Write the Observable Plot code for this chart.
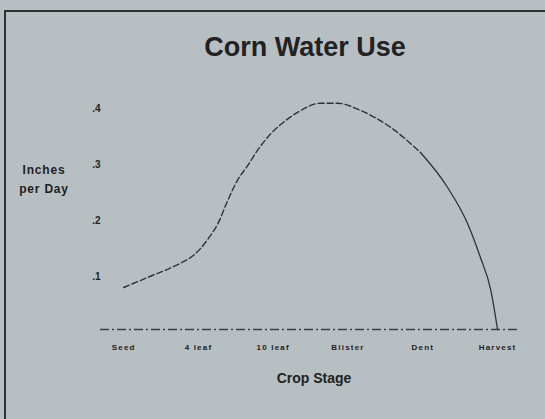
<!DOCTYPE html>
<html>
<head>
<meta charset="utf-8">
<script src="https://cdn.jsdelivr.net/npm/d3@7"></script>
<script src="https://cdn.jsdelivr.net/npm/@observablehq/plot@0.6"></script>
<style>
  html, body { margin: 0; padding: 0; background: #b8bfc3; }
  #wrap { position: relative; width: 545px; height: 419px; overflow: hidden; background: #b8bfc3; font-family: "Liberation Sans", Arial, sans-serif; color: #222; }
  #frame { position: absolute; left: 4px; top: 10px; width: 560px; height: 430px; border-left: 2px solid #2e3235; border-top: 2px solid #2e3235; }
  #title { position: absolute; left: 0; width: 610px; top: 32px; text-align: center; font-weight: bold; font-size: 27px; }
  #ylab { position: absolute; left: 4px; width: 80px; top: 161px; text-align: center; font-weight: bold; font-size: 12px; line-height: 19px; letter-spacing: 0.8px; }
  #xlab { position: absolute; left: 0; width: 628px; top: 370px; text-align: center; font-weight: bold; font-size: 14px; }
  #chart { position: absolute; left: 0; top: 0; }
  #chart g[aria-label="x-axis tick label"] text { letter-spacing: 1.2px; }
</style>
</head>
<body>
<div id="wrap">
  <div id="frame"></div>
  <div id="chart"></div>
  <div id="title">Corn Water Use</div>
  <div id="ylab">Inches<br>per Day</div>
  <div id="xlab">Crop Stage</div>
</div>
<script>
// Crop stages (x categories, plotted at index positions)
const stages = ["Seed", "4 leaf", "10 leaf", "Blister", "Dent", "Harvest"];
// Y tick values and labels
const yTicks = [0.1, 0.2, 0.3, 0.4];
const yTickLabels = [".1", ".2", ".3", ".4"];
// Curve: stage position (0 = Seed ... 5 = Harvest) and inches per day
const stagePos = [0, 0.32, 0.74, 0.90, 1.03, 1.14, 1.26, 1.39, 1.52, 1.66, 1.79, 1.97, 2.10, 2.33, 2.63, 2.86, 3.17, 3.57, 3.97, 4.33, 4.60, 4.77, 4.91, 5.0];
const inchesPerDay = [0.075, 0.093, 0.117, 0.129, 0.145, 0.164, 0.189, 0.230, 0.266, 0.293, 0.320, 0.350, 0.366, 0.388, 0.404, 0.404, 0.391, 0.361, 0.316, 0.254, 0.189, 0.129, 0.070, 0];

const data = stagePos.map((x, i) => ({x, y: inchesPerDay[i]}));
const dashed = data.filter(d => d.x <= 3.97);
const solid = data.filter(d => d.x >= 3.97);

const chart = Plot.plot({
  width: 545,
  height: 419,
  marginLeft: 100,
  marginRight: 27,
  marginTop: 105,
  marginBottom: 90,
  style: { background: "transparent", fontFamily: "Liberation Sans, Arial, sans-serif", color: "#222" },
  x: { domain: [-0.31, 5.28], label: null },
  y: { domain: [0, 0.4], label: null },
  marks: [
    Plot.ruleY([0], { stroke: "#3a3e41", strokeWidth: 1.3, strokeDasharray: "9,3,2,3" }),
    Plot.line(dashed, { x: "x", y: "y", curve: "monotone-x", stroke: "#303336", strokeWidth: 1.4, strokeDasharray: "6,3" }),
    Plot.line(solid, { x: "x", y: "y", curve: "monotone-x", stroke: "#303336", strokeWidth: 1.3 }),
    Plot.axisX({ ticks: [0, 1, 2, 3, 4, 5], tickFormat: i => stages[i], tickSize: 0, tickPadding: 15, fontSize: 8, fontWeight: "bold", label: null }),
    Plot.axisY({ ticks: yTicks, tickFormat: d => yTickLabels[yTicks.indexOf(d)], tickSize: 0, tickPadding: 0, fontSize: 10, fontWeight: "bold", dy: 3, label: null })
  ]
});
document.getElementById("chart").appendChild(chart);
</script>
</body>
</html>
